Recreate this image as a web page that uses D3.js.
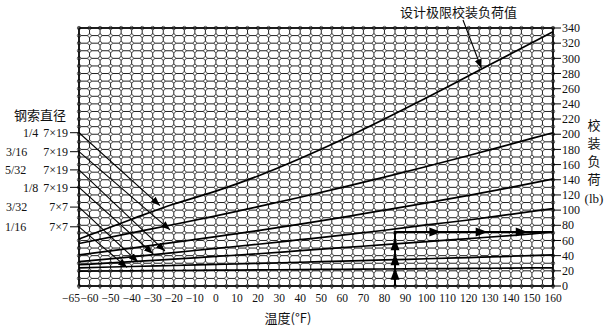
<!DOCTYPE html>
<html>
<head>
<meta charset="utf-8">
<script src="https://cdnjs.cloudflare.com/ajax/libs/d3/7.8.5/d3.min.js"></script>
<style>
  html, body { margin: 0; padding: 0; background: #fff; }
  svg { display: block; }
  text { font-family: "Liberation Serif", "DejaVu Serif", serif; fill: #111; }
  .cjk { font-family: "Noto Sans CJK SC", sans-serif; }
</style>
</head>
<body>
<svg id="chart" width="612" height="330"></svg>
<script>
// Temperature samples (°F) at which each load curve is tabulated
const temps = [-65, -40, -20, 0, 20, 40, 60, 80, 100, 120, 140, 160];

// Rigging load (lb) for each cable size, plus the design-limit curve
const designLimit = [62, 88, 108, 125, 145, 168, 193, 220, 248, 277, 306, 335];
const cable14  = [56, 70, 81, 92.5, 104.5, 117, 130, 143.5, 157.5, 172, 187, 202];
const cable316 = [41, 50, 57.5, 65, 73, 81.5, 90.5, 100, 109.5, 119.5, 130, 141];
const cable532 = [32, 38.5, 44, 49.5, 55, 61, 67, 73.5, 80.5, 87, 94.5, 102];
const cable18  = [28, 32, 35.5, 39, 42.5, 46.5, 50.5, 54.5, 58.5, 62.5, 66.5, 71];
const cable332 = [24, 25.7, 27, 28.4, 29.8, 31.3, 32.8, 34.3, 35.9, 37.5, 39.2, 41];
const cable116 = [19.5, 20, 20.4, 20.8, 21.2, 21.6, 22, 22.4, 22.8, 23.2, 23.6, 24];

// Cable size legend rows
const sizeLabels = ["1/4", "3/16", "5/32", "1/8", "3/32", "1/16"];
const strandLabels = ["7×19", "7×19", "7×19", "7×19", "7×7", "7×7"];
const sizeLabelX = [23, 6, 5, 23, 6, 5];
// Load level at the left edge where each leader begins, and the point it points to
const leaderStart = [202, 177, 153, 130, 104, 78];
const leaderTipTemp = [-26.6, -21.8, -24.2, -29.9, -37, -42.2];
const leaderTipLoad = [106, 74, 46, 42.5, 31.6, 24.5];

// Axis ticks
const xTicks = [-65, -60, -50, -40, -30, -20, -10, 0, 10, 20, 30, 40, 50, 60, 70, 80, 90, 100, 110, 120, 130, 140, 150, 160];
const yTicks = [0, 20, 40, 60, 80, 100, 120, 140, 160, 180, 200, 220, 240, 260, 280, 300, 320, 340];

// Worked example path: up at 85°F, then across at the resulting load
const exampleTemp = [85, 85, 160];
const exampleLoad = [0, 71, 71];
const exampleUpTips = [24, 43, 63];
const exampleRightTips = [107, 129, 148];

const svg = d3.select("#chart");
const x = d3.scaleLinear().domain([-65, 160]).range([79, 553]);
const y = d3.scaleLinear().domain([0, 340]).range([286, 28]);

const fmt = v => (v < 0 ? "\u2212" + Math.abs(v) : String(v));

// Grid: vertical every 5°F, horizontal every 10 lb
const gx = d3.range(-65, 161, 5);
const gy = d3.range(0, 341, 10);
const grid = svg.append("g").attr("stroke", "#222").attr("stroke-width", 1);
grid.selectAll("line.v").data(gx).join("line").attr("class", "v")
  .attr("x1", d => x(d)).attr("x2", d => x(d)).attr("y1", y(340)).attr("y2", y(0) + 3);
grid.selectAll("line.h").data(gy).join("line").attr("class", "h")
  .attr("x1", x(-65)).attr("x2", x(160)).attr("y1", d => y(d)).attr("y2", d => y(d));

// Open rings at every grid intersection
const nodes = [];
gx.forEach(a => gy.forEach(b => nodes.push([a, b])));
svg.append("g").selectAll("circle").data(nodes).join("circle")
  .attr("cx", d => x(d[0])).attr("cy", d => y(d[1])).attr("r", 1.7)
  .attr("fill", "#fff").attr("stroke", "#333").attr("stroke-width", 0.8);

// Frame
svg.append("rect").attr("x", x(-65)).attr("y", y(340))
  .attr("width", x(160) - x(-65)).attr("height", y(0) - y(340))
  .attr("fill", "none").attr("stroke", "#000").attr("stroke-width", 1.6);

// Right axis ticks and labels
const ry = svg.append("g");
ry.selectAll("line").data(yTicks).join("line")
  .attr("x1", x(160)).attr("x2", x(160) + 8).attr("y1", d => y(d)).attr("y2", d => y(d))
  .attr("stroke", "#000").attr("stroke-width", 1);
ry.selectAll("text").data(yTicks).join("text")
  .attr("x", x(160) + 9).attr("y", d => y(d)).attr("dy", "0.35em")
  .attr("font-size", 12).text(d => d);

// Bottom tick labels; the first one sits left of its tick to clear its neighbour
svg.append("g").selectAll("text").data(xTicks).join("text")
  .attr("x", d => d === -65 ? x(d) + 1 : x(d)).attr("y", y(0) + 16)
  .attr("text-anchor", d => d === -65 ? "end" : "middle")
  .attr("font-size", 11.5).text(fmt);

// Arrowhead marker
const defs = svg.append("defs");
defs.append("marker").attr("id", "ah").attr("viewBox", "0 0 10 10")
  .attr("refX", 10).attr("refY", 5).attr("markerWidth", 9).attr("markerHeight", 9)
  .attr("markerUnits", "userSpaceOnUse").attr("orient", "auto")
  .append("path").attr("d", "M0,1 L10,5 L0,9 Z").attr("fill", "#000");

// Load curves
const line = d3.line().x(d => x(d[0])).y(d => y(d[1])).curve(d3.curveMonotoneX);
const curves = [designLimit, cable14, cable316, cable532, cable18, cable332, cable116];
svg.append("g").selectAll("path").data(curves).join("path")
  .attr("d", vals => line(temps.map((t, i) => [t, vals[i]])))
  .attr("fill", "none").attr("stroke", "#000").attr("stroke-width", 1.7);

// Cable size legend and leaders
const leg = svg.append("g");
sizeLabels.forEach((s, i) => {
  const yy = y(leaderStart[i]);
  leg.append("text").attr("x", sizeLabelX[i]).attr("y", yy).attr("dy", "0.35em")
    .attr("font-size", 12).text(s);
  leg.append("text").attr("x", 68).attr("y", yy).attr("dy", "0.35em")
    .attr("text-anchor", "end").attr("font-size", 12).text(strandLabels[i]);
  leg.append("line").attr("x1", 70).attr("x2", x(-65)).attr("y1", yy).attr("y2", yy)
    .attr("stroke", "#000").attr("stroke-width", 1);
  leg.append("line").attr("x1", x(-65)).attr("y1", yy)
    .attr("x2", x(leaderTipTemp[i])).attr("y2", y(leaderTipLoad[i]))
    .attr("stroke", "#000").attr("stroke-width", 1.1).attr("marker-end", "url(#ah)");
});
svg.append("text").attr("class", "cjk").attr("x", 14).attr("y", 115).attr("dy", "0.35em")
  .attr("font-size", 13).text("钢索直径");

// Worked example path with arrowheads
const ex = svg.append("g");
ex.append("path")
  .attr("d", d3.line().x(d => x(d[0])).y(d => y(d[1]))(exampleTemp.map((t, i) => [t, exampleLoad[i]])))
  .attr("fill", "none").attr("stroke", "#000").attr("stroke-width", 2);
ex.selectAll("path.up").data(exampleUpTips).join("path").attr("class", "up")
  .attr("d", d => `M${x(85)},${y(d)} l-4.5,12 l9,0 Z`).attr("fill", "#000");
ex.selectAll("path.rt").data(exampleRightTips).join("path").attr("class", "rt")
  .attr("d", d => `M${x(d)},${y(71)} l-12,-4.5 l0,9 Z`).attr("fill", "#000");

// Design limit callout
svg.append("text").attr("class", "cjk").attr("x", 400).attr("y", 12).attr("dy", "0.35em")
  .attr("font-size", 13).text("设计极限校装负荷值");
svg.append("line").attr("x1", 463).attr("y1", 20).attr("x2", x(126)).attr("y2", y(287))
  .attr("stroke", "#000").attr("stroke-width", 1.1).attr("marker-end", "url(#ah)");

// Axis titles
svg.append("text").attr("class", "cjk").attr("x", 288).attr("y", 318).attr("dy", "0.35em")
  .attr("text-anchor", "middle").attr("font-size", 13).text("温度(°F)");
const rt = svg.append("g");
["校", "装", "负", "荷"].forEach((c, i) => {
  rt.append("text").attr("class", "cjk").attr("x", 594).attr("y", 125 + i * 18).attr("dy", "0.35em")
    .attr("text-anchor", "middle").attr("font-size", 13).text(c);
});
rt.append("text").attr("x", 594).attr("y", 198).attr("dy", "0.35em")
  .attr("text-anchor", "middle").attr("font-size", 13).text("(lb)");
</script>
</body>
</html>
